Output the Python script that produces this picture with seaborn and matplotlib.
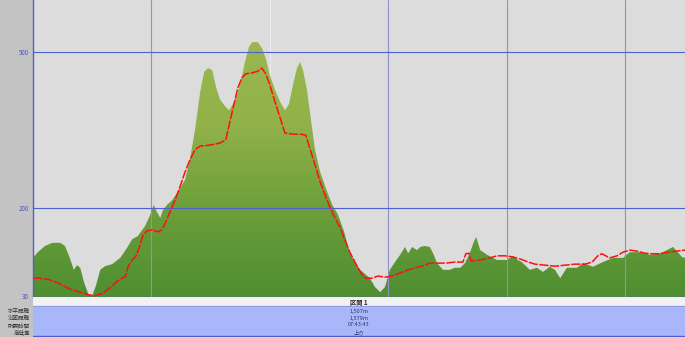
import numpy as np
import pandas as pd
import matplotlib
matplotlib.use("Agg")
import matplotlib.pyplot as plt
import seaborn as sns
from matplotlib.colors import LinearSegmentedColormap

# ---- data (distance m, elevation m) ----
terrain_dist = [0, 12, 30, 48, 68, 80, 92, 102, 110, 118, 128, 138, 148, 158, 168, 180, 198, 218, 235, 248,
                262, 280, 292, 302, 310, 318, 325, 335, 348, 362, 380, 392, 405, 418, 428, 438, 448, 458, 468, 480,
                490, 500, 510, 520, 530, 540, 548, 562, 572, 582, 592, 605, 618, 630, 640, 650, 660, 668, 675, 685,
                695, 705, 718, 732, 748, 762, 778, 792, 805, 818, 830, 842, 855, 868, 880, 892, 905, 918, 930, 938,
                948, 960, 968, 980, 992, 1002, 1010, 1025, 1042, 1055, 1068, 1080, 1092, 1102, 1108, 1118, 1135, 1160, 1185, 1200,
                1212, 1222, 1242, 1260, 1275, 1292, 1305, 1318, 1335, 1360, 1375, 1400, 1425, 1450, 1475, 1492, 1518, 1542, 1568, 1585,
                1600, 1612, 1622, 1630]
terrain_elev = [104, 115, 127, 133, 133, 127, 104, 81, 90, 85, 56, 35, 31, 52, 81, 88, 92, 104, 123, 140,
                146, 165, 185, 206, 192, 181, 196, 206, 215, 231, 254, 292, 350, 423, 462, 469, 465, 431, 408, 396,
                388, 400, 417, 446, 481, 510, 519, 519, 508, 488, 456, 427, 404, 388, 400, 437, 469, 481, 465, 427,
                369, 312, 269, 238, 206, 188, 154, 113, 96, 81, 73, 65, 48, 38, 48, 81, 96, 110, 125, 113,
                125, 119, 125, 127, 125, 110, 94, 81, 81, 85, 85, 94, 113, 135, 144, 119, 110, 100, 100, 108,
                100, 96, 81, 85, 77, 87, 81, 65, 85, 85, 94, 87, 96, 104, 104, 115, 115, 110, 113, 119,
                125, 115, 106, 104]

track_dist = [0, 17, 42, 68, 92, 118, 138, 155, 172, 192, 212, 232, 238, 248, 258, 268, 275, 285, 300, 312,
              322, 332, 342, 355, 368, 380, 392, 405, 418, 442, 468, 482, 492, 502, 512, 522, 532, 548, 562, 572,
              582, 592, 605, 618, 630, 648, 668, 682, 692, 705, 718, 730, 742, 755, 768, 780, 792, 805, 818, 830,
              848, 862, 880, 898, 918, 938, 955, 972, 992, 1012, 1032, 1055, 1075, 1082, 1090, 1095, 1118, 1142, 1160, 1180,
              1198, 1218, 1238, 1255, 1280, 1305, 1330, 1355, 1380, 1398, 1412, 1422, 1432, 1442, 1460, 1475, 1492, 1510, 1530, 1548,
              1568, 1588, 1608, 1630]
track_elev = [65, 65, 62, 54, 44, 38, 33, 31, 35, 46, 60, 69, 88, 100, 108, 129, 148, 156, 158, 154,
              158, 173, 192, 215, 242, 269, 292, 312, 319, 321, 325, 331, 365, 398, 431, 450, 458, 460, 463, 469,
              458, 437, 404, 373, 344, 342, 342, 340, 315, 283, 250, 225, 202, 181, 162, 138, 115, 96, 77, 65,
              65, 69, 67, 69, 75, 81, 85, 88, 94, 94, 94, 96, 96, 112, 113, 98, 100, 104, 108, 108,
              106, 102, 96, 92, 90, 88, 90, 92, 92, 96, 108, 112, 108, 104, 108, 115, 119, 117, 113, 112,
              112, 115, 117, 119]

ytick_vals = [30, 200, 500]
ytick_labels = ["30", "200", "500"]
xgrid_vals = [296, 888, 1184, 1480]
xgrid_light = [592]

row_labels = ["水平距離", "沿面距離", "所要時間", "高低差"]
section_title = "区間 1"
section_values = ["1,507m", "1,579m", "07:43:43", "上り"]

terrain = pd.DataFrame({"dist": terrain_dist, "elev": terrain_elev})
track = pd.DataFrame({"dist": track_dist, "elev": track_elev})

sns.set_theme(style="white")
plt.rcParams["font.family"] = ["Noto Sans CJK JP", "DejaVu Sans"]

W, H = 685, 337
fig = plt.figure(figsize=(W / 100, H / 100), dpi=100)
fig.patch.set_facecolor("#c3c3c3")

XMIN, XMAX = 0, 1630
YMIN, YMAX = 28.8, 600

ax = fig.add_axes([33 / W, 40 / H, 652 / W, 297 / H])
ax.set_facecolor("#dcdcdc")
ax.set_xlim(XMIN, XMAX)
ax.set_ylim(YMIN, YMAX)

# gradient filled terrain
poly = ax.fill_between(terrain["dist"], terrain["elev"], YMIN, color="none", lw=0)
cmap = LinearSegmentedColormap.from_list("g", ["#4f8e31", "#6b9f3a", "#92b249", "#9ab84f"])
grad = np.linspace(0, 1, 256).reshape(-1, 1)
img = ax.imshow(grad, cmap=cmap, aspect="auto", origin="lower",
                extent=[XMIN, XMAX, YMIN, 530], zorder=2)
img.set_clip_path(poly.get_paths()[0], transform=ax.transData)

# grid lines
for v in xgrid_vals:
    ax.axvline(v, color="#8f90c8", lw=0.8, zorder=3)
for v in xgrid_light:
    ax.axvline(v, color="#ececec", lw=0.8, zorder=1)
for v in ytick_vals[1:]:
    ax.axhline(v, color="#4e5fd0", lw=0.8, zorder=3)

sns.lineplot(data=track, x="dist", y="elev", ax=ax, color="#ff1010", lw=1.1,
             zorder=4, estimator=None, sort=False)
ax.lines[-1].set_linestyle((0, (6, 1)))

ax.set_xticks([])
ax.set_yticks(ytick_vals)
ax.set_yticklabels(ytick_labels, fontsize=4.5, color="#4a58c0")
ax.tick_params(axis="y", length=0, pad=3)
ax.set_xlabel("")
ax.set_ylabel("")
for s in ["top", "right"]:
    ax.spines[s].set_visible(False)
ax.spines["left"].set_color("#4e5fd0")
ax.spines["left"].set_linewidth(1.0)
ax.spines["bottom"].set_color("#4e5fd0")
ax.spines["bottom"].set_linewidth(1.0)

# table area
tb = fig.add_axes([33 / W, 0, 652 / W, 40 / H])
tb.set_xlim(0, 1)
tb.set_ylim(0, 40)
tb.axis("off")
tb.add_patch(plt.Rectangle((0, 31), 1, 9, color="#f2f2f2", zorder=1))
tb.add_patch(plt.Rectangle((0, 1), 1, 30, color="#a7b7fa", zorder=1))
tb.plot([0, 1], [1, 1], color="#4e5fd0", lw=1)
tb.plot([0, 1], [31, 31], color="#8a96e0", lw=0.6)
tb.text(0.5, 35, section_title, ha="center", va="center", fontsize=4.5,
        color="#222222", fontweight="bold")
row_y = [26, 19, 12, 5]
for y, v in zip(row_y, section_values):
    tb.text(0.5, y, v, ha="center", va="center", fontsize=4, color="#333366")
for y, lab in zip(row_y, row_labels):
    fig.text(30 / W, y / H, lab, ha="right", va="center", fontsize=4, color="#333333")

fig.savefig("out.png", dpi=100, facecolor=fig.get_facecolor())
